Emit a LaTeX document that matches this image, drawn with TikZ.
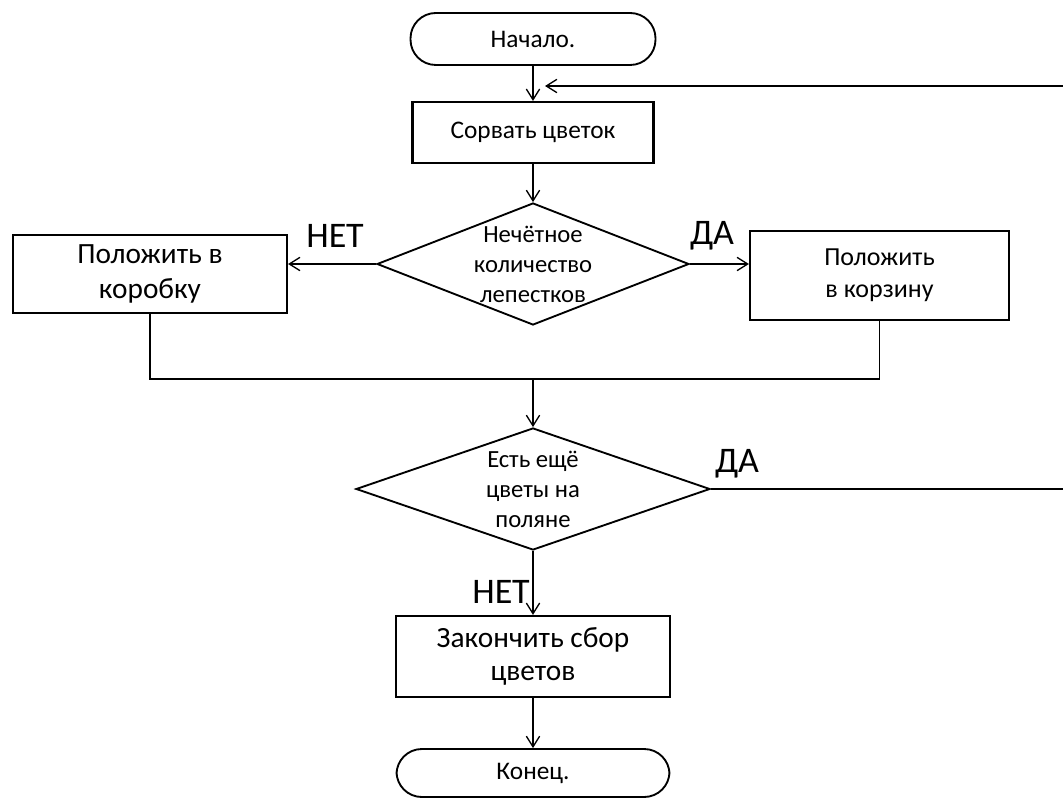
\documentclass[tikz,border=0pt]{standalone}
\usepackage{fontspec}
\setmainfont{Carlito}
\usetikzlibrary{shapes.geometric,arrows.meta}
\tikzstyle{terminal}=[shape = rectangle, rounded corners = 19pt, draw, line width = 1.4pt, font = \fontsize{19}{22}\selectfont]
\tikzstyle{action}=[shape = rectangle, draw, line width = 1.6pt, align = center]
\tikzstyle{question}=[shape = diamond, draw, line width = 1.4pt, inner sep = -3pt, align = center, font = \fontsize{18.5}{22.5}\selectfont]
\tikzstyle{flow}=[line width = 1pt, -{Straight Barb[length = 8pt, width = 10pt]}]
\tikzstyle{answer}=[font = \fontsize{27}{30}\selectfont]

\begin{document}
\begin{tikzpicture}[x = 0.75pt, y = -0.75pt]
\useasboundingbox (0,0) rectangle (1063,798);
\node[terminal, minimum width = 183.75pt, minimum height = 39pt] (start) at (533,39) {Начало.};
\node[action, minimum width = 180.75pt, minimum height = 45.75pt, font = \fontsize{19}{22}\selectfont] (pick) at (533,132.5) {Сорвать цветок};
\node[question, aspect = 2.56, minimum width = 234pt, minimum height = 91.5pt] (odd) at (533,264) {Нечётное\\количество\\лепестков};
\node[action, minimum width = 205.5pt, minimum height = 58.5pt, font = \fontsize{22}{26}\selectfont] (box) at (150,274) {Положить в\\коробку};
\node[action, minimum width = 194.25pt, minimum height = 66.75pt, font = \fontsize{19.5}{24}\selectfont] (basket) at (879.5,275.5) {Положить\\в корзину};
\coordinate (merge) at (533,379);
\node[question, aspect = 2.9, minimum width = 265.5pt, minimum height = 91.5pt] (more) at (533,489) {Есть ещё\\цветы на\\поляне};
\node[action, minimum width = 205.5pt, minimum height = 60.75pt, font = \fontsize{22}{25}\selectfont] (finish) at (533,656.5) {Закончить сбор\\цветов};
\node[terminal, minimum width = 204.75pt, minimum height = 36pt] (stop) at (533,773) {Конец.};
\coordinate (loopTop) at (1063,86);
\coordinate (loopIn) at (545,86);
\coordinate (loopBottom) at (1063,489);
% answers
\node[answer] (noOdd) at (335,236) {НЕТ};
\node[answer] (yesOdd) at (712,236) {ДА};
\node[answer] (yesMore) at (737,464) {ДА};
\node[answer] (noMore) at (501,592) {НЕТ};
% connectors
\draw[flow] (start) -- (pick);
\draw[flow] (loopTop) -- (loopIn);
\draw[flow] (pick) -- (odd);
\draw[flow] (odd.west) -- (odd.west -| box.east);
\draw[flow] (odd.east) -- (odd.east -| basket.west);
\draw[line width = 1pt] (box.south) |- (merge) -| (basket.south);
\draw[flow] (merge) -- (more);
\draw[line width = 1pt] (more.east) -- (loopBottom);
\draw[flow] (more) -- (finish);
\draw[flow] (finish) -- (stop);
\end{tikzpicture}
\end{document}
